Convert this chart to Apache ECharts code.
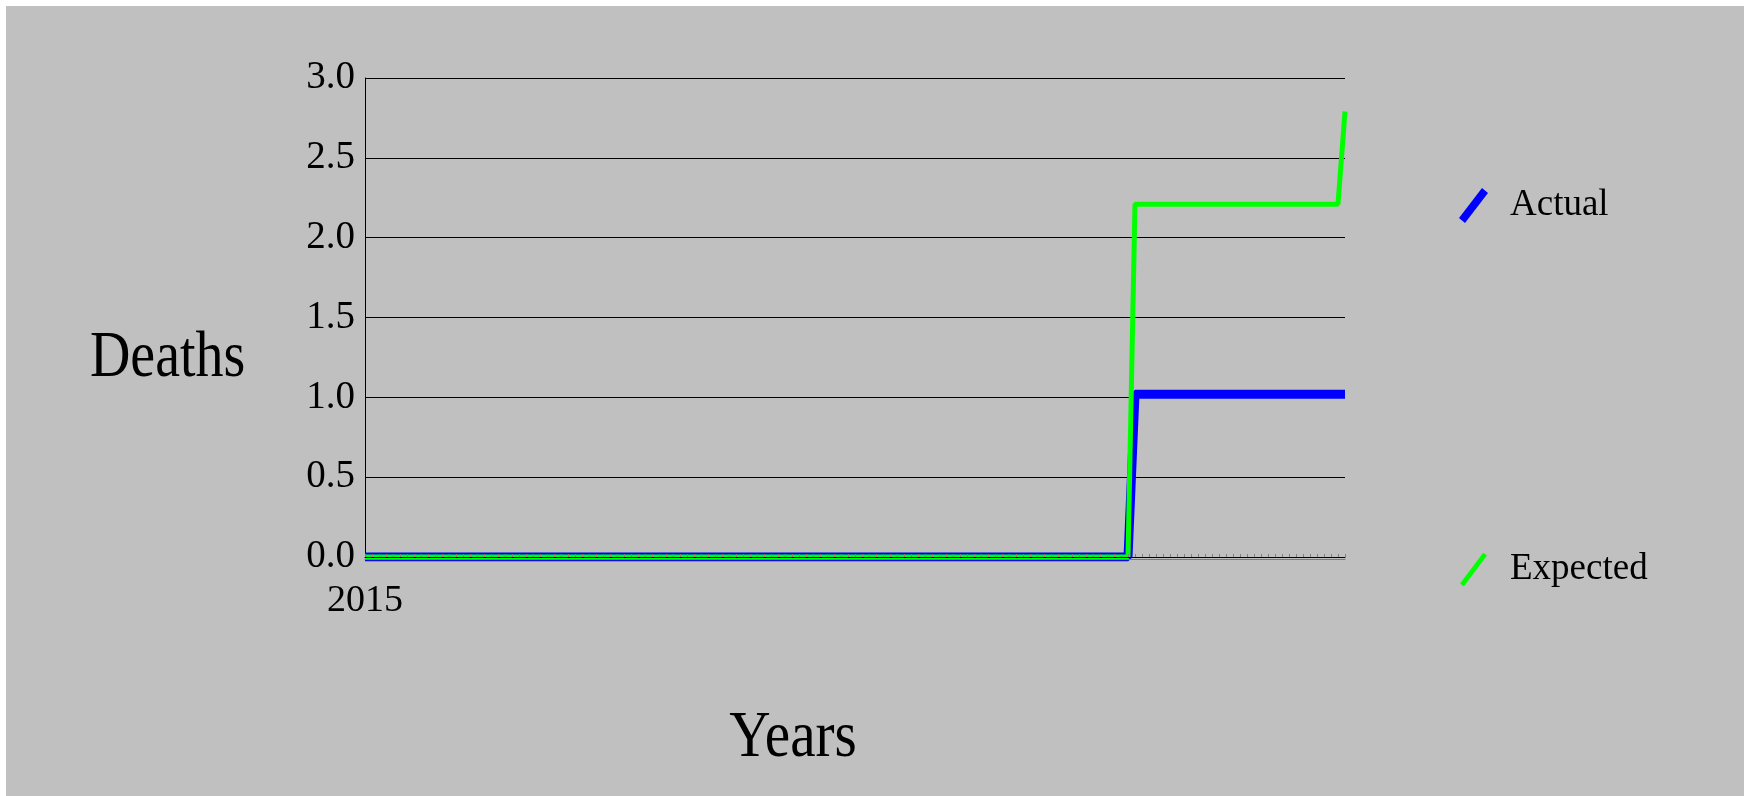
<!DOCTYPE html>
<html>
<head>
<meta charset="utf-8">
<title>Deaths</title>
<script src="https://cdn.jsdelivr.net/npm/echarts@6/dist/echarts.min.js"></script>
<style>
	html, body {
		margin: 0;
		padding: 0;
		background: #ffffff;
	}
	#main {
		width: 1744px;
		height: 796px;
	}
</style>
</head>
<body>
<div id="main"></div>
<script>
	// weeks counted from the start of 2015, only the break points of each line
	var actualWeeks = [0, 109, 110, 140];
	var actualValues = [0, 0, 1.02, 1.02];
	var expectedWeeks = [0, 109, 110, 139, 140];
	var expectedValues = [0, 0, 2.21, 2.21, 2.79];
	var firstYearLabel = '2015';
	var seriesNames = ['Actual', 'Expected'];

	var serif = '"Liberation Serif", "Times New Roman", serif';

	function pairs(xs, ys) {
		var out = [];
		for (var i = 0; i < xs.length; i++) {
			out.push([xs[i], ys[i]]);
		}
		return out;
	}

	var myChart = echarts.init(document.getElementById('main'));

	var option = {
		animation: false,
		backgroundColor: '#ffffff',
		graphic: [{
				type: 'rect',
				z: -10,
				shape: { x: 6, y: 6, width: 1738, height: 790 },
				style: { fill: '#c0c0c0' }
			},
			{
				type: 'text',
				x: 90,
				y: 359,
				scaleX: 0.86,
				style: {
					text: 'Deaths',
					font: '65px ' + serif,
					fill: '#000000',
					align: 'left',
					verticalAlign: 'middle'
				}
			},
			{
				type: 'text',
				x: 793,
				y: 739,
				scaleX: 0.88,
				style: {
					text: 'Years',
					font: '65px ' + serif,
					fill: '#000000',
					align: 'center',
					verticalAlign: 'middle'
				}
			}
		],
		grid: {
			left: 365,
			right: 399,
			top: 78,
			bottom: 239,
			containLabel: false
		},
		legend: [{
				data: [{
					name: 'Actual',
					icon: 'path://M0,30 L23,0 L29,5 L6,35 Z'
				}],
				left: 1459,
				top: 187,
				padding: 0,
				itemWidth: 29,
				itemHeight: 35,
				selectedMode: false,
				textStyle: {
					fontFamily: serif,
					fontSize: 37,
					color: '#000000',
					padding: [8, 0, 0, 17]
				}
			},
			{
				data: [{
					name: 'Expected',
					icon: 'path://M0,32 L24,0 L28,3 L4,35 Z'
				}],
				left: 1460,
				top: 551,
				padding: 0,
				itemWidth: 27,
				itemHeight: 34,
				selectedMode: false,
				textStyle: {
					fontFamily: serif,
					fontSize: 37,
					color: '#000000',
					padding: [9, 0, 0, 18]
				}
			}
		],
		xAxis: {
			type: 'value',
			min: 0,
			max: 140,
			interval: 1,
			z: 5,
			axisLine: {
				show: true,
				onZero: false,
				lineStyle: {
					color: '#000000',
					width: 1,
					shadowColor: '#7a7a7a',
					shadowOffsetY: 2
				}
			},
			axisTick: {
				show: true,
				inside: true,
				length: 3,
				lineStyle: { color: '#808080', width: 1 }
			},
			splitLine: { show: false },
			axisLabel: {
				margin: 25,
				fontFamily: serif,
				fontSize: 38,
				color: '#000000',
				formatter: function (v) {
					return v === 0 ? firstYearLabel : '';
				}
			}
		},
		yAxis: {
			type: 'value',
			min: 0,
			max: 3,
			interval: 0.5,
			axisLine: {
				show: true,
				lineStyle: { color: '#000000', width: 1 }
			},
			axisTick: { show: false },
			splitLine: {
				show: true,
				lineStyle: { color: '#000000', width: 1 }
			},
			axisLabel: {
				margin: 10,
				fontFamily: serif,
				fontSize: 39,
				color: '#000000',
				formatter: function (v) {
					return v.toFixed(1);
				}
			}
		},
		series: [{
				name: seriesNames[0],
				type: 'line',
				showSymbol: false,
				color: '#0000ff',
				lineStyle: { color: '#0000ff', width: 9 },
				data: pairs(actualWeeks, actualValues)
			},
			{
				name: seriesNames[1],
				type: 'line',
				showSymbol: false,
				color: '#00ff00',
				lineStyle: { color: '#00ff00', width: 5 },
				data: pairs(expectedWeeks, expectedValues)
			}
		]
	};

	myChart.setOption(option);
</script>
</body>
</html>
